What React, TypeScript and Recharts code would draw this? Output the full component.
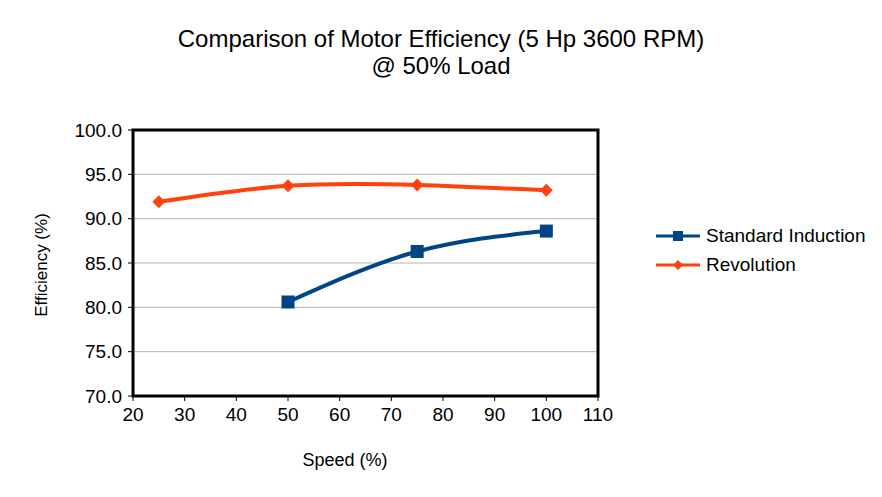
import {
  CartesianGrid,
  Line,
  LineChart,
  ReferenceArea,
  XAxis,
  YAxis,
} from "recharts";

const speeds = [25, 50, 75, 100];
const standardInduction = [null, 80.6, 86.3, 88.6];
const revolution = [91.9, 93.7, 93.8, 93.2];
const xTicks = [20, 30, 40, 50, 60, 70, 80, 90, 100, 110];
const yTicks = [70, 75, 80, 85, 90, 95, 100];

const BLUE = "#004586";
const ORANGE = "#ff420e";
const FONT = "'Liberation Sans', Arial, sans-serif";

const data = speeds.map((speed, i) => ({
  speed,
  standard: standardInduction[i],
  revolution: revolution[i],
}));

const SquareDot = (props: any) => {
  const { cx, cy } = props;
  if (cx == null || cy == null || props.value == null) return null;
  return <rect x={cx - 6.5} y={cy - 6.5} width={13} height={13} fill={BLUE} />;
};

const DiamondDot = (props: any) => {
  const { cx, cy } = props;
  if (cx == null || cy == null) return null;
  const r = 6.5;
  return (
    <path
      d={`M${cx},${cy - r}L${cx + r},${cy}L${cx},${cy + r}L${cx - r},${cy}Z`}
      fill={ORANGE}
    />
  );
};

function LegendBox() {
  const rows = [
    { label: "Standard Induction", color: BLUE, shape: "square" },
    { label: "Revolution", color: ORANGE, shape: "diamond" },
  ];
  return (
    <div
      style={{
        position: "absolute",
        left: 656,
        top: 221,
        fontFamily: FONT,
        fontSize: 19,
        color: "#000",
      }}
    >
      {rows.map((r) => (
        <div key={r.label} style={{ display: "flex", alignItems: "center", height: 29 }}>
          <svg width={44} height={14} style={{ marginRight: 6 }}>
            <line x1={0} y1={7} x2={44} y2={7} stroke={r.color} strokeWidth={3} />
            {r.shape === "square" ? (
              <rect x={17} y={2} width={10} height={10} fill={r.color} />
            ) : (
              <path d="M22,2L27,7L22,12L17,7Z" fill={r.color} />
            )}
          </svg>
          <span>{r.label}</span>
        </div>
      ))}
    </div>
  );
}

export default function App() {
  return (
    <div
      style={{
        position: "absolute",
        left: 0,
        top: 0,
        width: 882,
        height: 497,
        background: "#fff",
        fontFamily: FONT,
      }}
    >
      <div
        style={{
          position: "absolute",
          left: 0,
          top: 25,
          width: 882,
          textAlign: "center",
          fontSize: 24,
          lineHeight: "27px",
          color: "#000",
        }}
      >
        Comparison of Motor Efficiency (5 Hp 3600 RPM)
        <br />
        @ 50% Load
      </div>
      <div
        style={{
          position: "absolute",
          left: 285,
          top: 450,
          width: 120,
          textAlign: "center",
          fontSize: 18,
          whiteSpace: "nowrap",
        }}
      >
        Speed (%)
      </div>
      <div
        style={{
          position: "absolute",
          left: 42 - 70,
          top: 265 - 11,
          width: 140,
          height: 22,
          lineHeight: "22px",
          textAlign: "center",
          fontSize: 17,
          whiteSpace: "nowrap",
          transform: "rotate(-90deg)",
        }}
      >
        Efficiency (%)
      </div>
      <LineChart
        width={882}
        height={497}
        data={data}
        margin={{ top: 130, right: 284, bottom: 71, left: 73 }}
      >
        <CartesianGrid vertical={false} stroke="#b3b3b3" strokeWidth={1} />
        <XAxis
          dataKey="speed"
          type="number"
          domain={[20, 110]}
          ticks={xTicks}
          interval={0}
          height={30}
          axisLine={false}
          tickLine={{ stroke: "#000" }}
          tickSize={5}
          tickMargin={7}
          tick={{ fontSize: 19, fill: "#000", fontFamily: FONT }}
        />
        <YAxis
          type="number"
          domain={[70, 100]}
          ticks={yTicks}
          interval={0}
          width={60}
          axisLine={false}
          tickLine={{ stroke: "#000" }}
          tickSize={5}
          tickMargin={6}
          tickFormatter={(v: number) => v.toFixed(1)}
          tick={{ fontSize: 19, fill: "#000", fontFamily: FONT }}
        />
        <ReferenceArea
          x1={20}
          x2={110}
          y1={70}
          y2={100}
          fill="none"
          fillOpacity={0}
          stroke="#000"
          strokeWidth={3}
          ifOverflow="visible"
        />
        <Line
          type="natural"
          dataKey="revolution"
          name="Revolution"
          stroke={ORANGE}
          strokeWidth={4}
          dot={<DiamondDot />}
          activeDot={false}
          isAnimationActive={false}
        />
        <Line
          type="natural"
          dataKey="standard"
          name="Standard Induction"
          stroke={BLUE}
          strokeWidth={4}
          dot={<SquareDot />}
          activeDot={false}
          connectNulls={false}
          isAnimationActive={false}
        />
      </LineChart>
      <LegendBox />
    </div>
  );
}
